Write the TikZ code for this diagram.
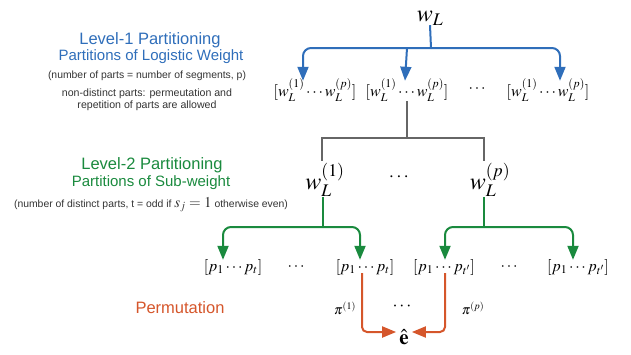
\documentclass[tikz,border=0pt]{standalone}
\usepackage{amsmath}
\usepackage{mathptmx}
\usepackage[no-math]{fontspec}
\setmainfont{Liberation Sans}
\usetikzlibrary{arrows.meta}

\definecolor{lvlblue}{HTML}{2F6EBA}
\definecolor{lvlgreen}{HTML}{1A8A3E}
\definecolor{permorange}{HTML}{D5562B}
\definecolor{treegray}{HTML}{666666}
\definecolor{notegray}{HTML}{333333}

\begin{document}
\begin{tikzpicture}[x=1pt,y=-1pt]
\tikzstyle{every node}=[inner sep=0pt];
\tikzstyle{title}=[font=\fontsize{16.5}{18}\selectfont];
\tikzstyle{subtitle}=[font=\fontsize{15}{17}\selectfont];
\tikzstyle{note}=[font=\fontsize{10.4}{12}\selectfont,text=notegray,align=center];
\tikzstyle{bigw}=[font=\fontsize{24}{26}\selectfont];
\tikzstyle{vec}=[font=\fontsize{16}{18}\selectfont];
\tikzstyle{perm}=[font=\fontsize{13.5}{15}\selectfont];
\tikzstyle{link}=[line width=2pt];
\tikzstyle{tip}=[-{Triangle[length=14pt,width=11pt]}];
\useasboundingbox (0,0) rectangle (631,354);

% captions on the left
\node[title,text=lvlblue] (lvl1) at (150,40) {Level-1 Partitioning};
\node[subtitle,text=lvlblue] (part1) at (151,57) {Partitions of Logistic Weight};
\node[note] (note1) at (147,76) {(number of parts = number of segments, p)};
\node[note,font=\fontsize{10.6}{12.5}\selectfont] (note2) at (147,100) {non-distinct parts: permeutation and\\repetition of parts are allowed};
\node[title,text=lvlgreen] (lvl2) at (152,165) {Level-2 Partitioning};
\node[subtitle,text=lvlgreen] (part2) at (151,183) {Partitions of Sub-weight};
\node[note] (note3) at (151,205) {(number of distinct parts, t = odd if {\fontsize{15}{15}\selectfont$s_j=1$} otherwise even)};
\node[title,text=permorange] (permlbl) at (180,308) {Permutation};

% level 1
\node[bigw] (wL) at (430,18) {$w_L$};
\node[vec] (seg1) at (315,90) {$[w_L^{(1)}\cdots w_L^{(p)}]$};
\node[vec] (seg2) at (407,90) {$[w_L^{(1)}\cdots w_L^{(p)}]$};
\node[vec] (segdots) at (478,89) {$\cdots$};
\node[vec] (seg3) at (548,90) {$[w_L^{(1)}\cdots w_L^{(p)}]$};
\coordinate (split1) at (431,48);
\draw[link,lvlblue] (wL.south) -- (split1);
\draw[link,tip,lvlblue,rounded corners=8pt] (split1) -| ([xshift=-12pt,yshift=-2pt]seg1.north);
\draw[link,tip,lvlblue] (split1 -| seg2.north) -- ([xshift=-2pt,yshift=-2pt]seg2.north);
\draw[link,tip,lvlblue,rounded corners=8pt] (split1) -| ([xshift=12pt,yshift=-2pt]seg3.north);

% level 2
\node[bigw] (sub1) at (325,180) {$w_L^{(1)}$};
\node[font=\fontsize{19}{20}\selectfont] (subdots) at (400,177) {$\boldsymbol{\cdots}$};
\node[bigw] (subp) at (490,180) {$w_L^{(p)}$};
\coordinate (split2) at (407,138);
\draw[link,treegray] (seg2.south) -- (split2);
\draw[link,treegray] (split2) -| ([xshift=-3pt,yshift=2pt]sub1.north);
\draw[link,treegray] (split2) -| ([xshift=-6pt,yshift=2pt]subp.north);

\node[vec] (pa) at (233,267) {$[p_1\cdots p_t]$};
\node[vec] (pdotsa) at (297,267) {$\cdots$};
\node[vec] (pb) at (365,267) {$[p_1\cdots p_t]$};
\node[vec] (pc) at (444,267) {$[p_1\cdots p_{t'}]$};
\node[vec] (pdotsb) at (510,267) {$\cdots$};
\node[vec] (pd) at (578,267) {$[p_1\cdots p_{t'}]$};
\coordinate (split3) at (323,227);
\coordinate (split4) at (484,227);
\draw[link,lvlgreen] ([xshift=-2pt]sub1.south) -- (split3);
\draw[link,lvlgreen] ([xshift=-6pt]subp.south) -- (split4);
\draw[link,tip,lvlgreen,rounded corners=8pt] (split3) -| ([xshift=-10pt,yshift=-1pt]pa.north);
\draw[link,tip,lvlgreen,rounded corners=8pt] (split3) -| ([xshift=-5pt,yshift=-1pt]pb.north);
\draw[link,tip,lvlgreen,rounded corners=8pt] (split4) -| ([xshift=1pt,yshift=-1pt]pc.north);
\draw[link,tip,lvlgreen,rounded corners=8pt] (split4) -| ([xshift=-5pt,yshift=-1pt]pd.north);

% permutation
\node[font=\fontsize{21}{22}\selectfont] (ehat) at (404,337) {$\hat{\mathbf{e}}$};
\node[perm] (pi1) at (345,308) {$\pi^{(1)}$};
\node[font=\fontsize{18}{20}\selectfont] (pidots) at (403,307) {$\boldsymbol{\cdots}$};
\node[perm] (pip) at (473,308) {$\pi^{(p)}$};
\draw[link,tip,permorange,rounded corners=5pt] ([xshift=-3pt,yshift=2pt]pb.south) |- ([xshift=-3pt,yshift=5pt]ehat.west);
\draw[link,tip,permorange,rounded corners=5pt] ([xshift=1pt,yshift=2pt]pc.south) |- ([xshift=3pt,yshift=5pt]ehat.east);
\end{tikzpicture}
\end{document}
